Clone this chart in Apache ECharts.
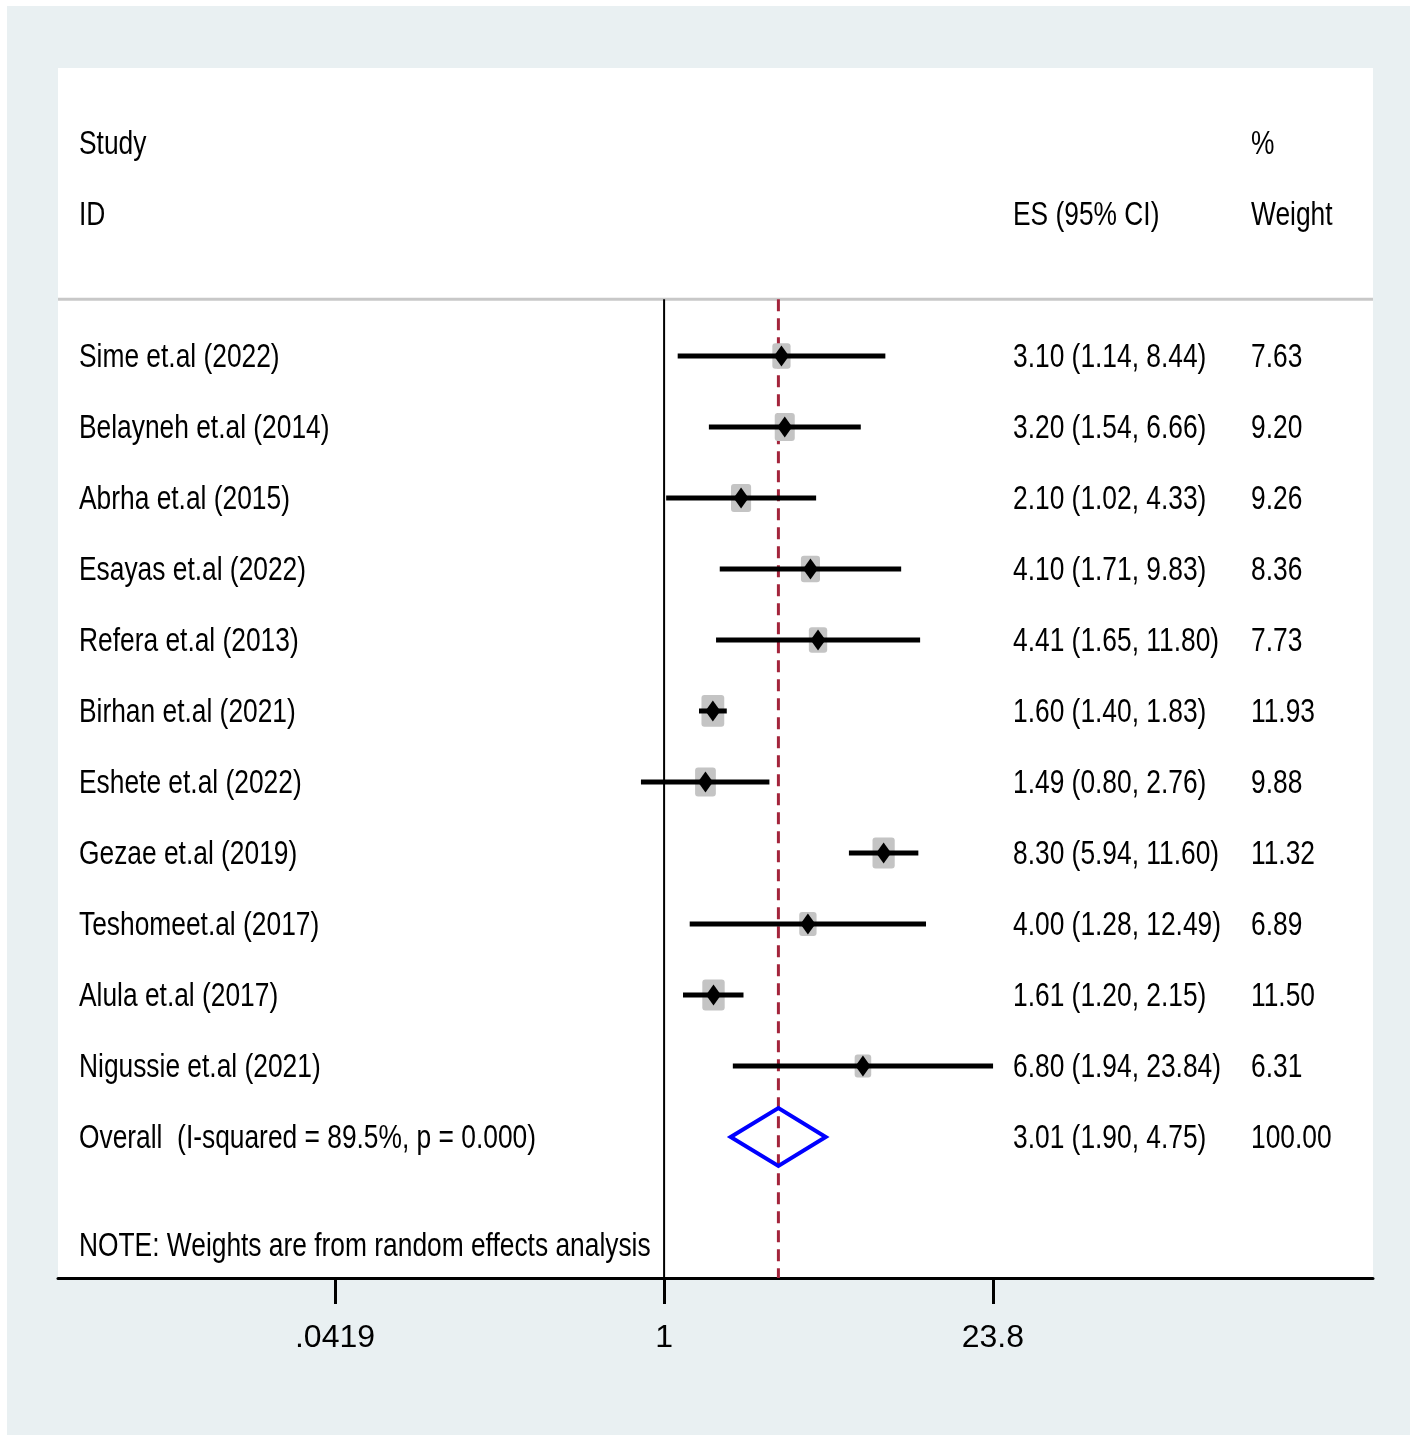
<!DOCTYPE html>
<html>
<head>
<meta charset="utf-8">
<script src="https://cdn.jsdelivr.net/npm/echarts@6/dist/echarts.min.js"></script>
<style>
  html, body { margin: 0; padding: 0; background: #fff; }
  #chart { width: 1417px; height: 1442px; }
</style>
</head>
<body>
<div id="chart"></div>
<script>
// study rows, top to bottom
const studyLabels = [
  'Sime et.al (2022)', 'Belayneh et.al (2014)', 'Abrha et.al (2015)', 'Esayas et.al (2022)',
  'Refera et.al (2013)', 'Birhan et.al (2021)', 'Eshete et.al (2022)', 'Gezae et.al (2019)',
  'Teshomeet.al (2017)', 'Alula et.al (2017)', 'Nigussie et.al (2021)'
];
const effectSizes = [3.10, 3.20, 2.10, 4.10, 4.41, 1.60, 1.49, 8.30, 4.00, 1.61, 6.80];
const ciLower = [1.14, 1.54, 1.02, 1.71, 1.65, 1.40, 0.80, 5.94, 1.28, 1.20, 1.94];
const ciUpper = [8.44, 6.66, 4.33, 9.83, 11.80, 1.83, 2.76, 11.60, 12.49, 2.15, 23.84];
const weights = [7.63, 9.20, 9.26, 8.36, 7.73, 11.93, 9.88, 11.32, 6.89, 11.50, 6.31];

const overallLabel = 'Overall  (I-squared = 89.5%, p = 0.000)';
const overallES = 3.01;
const overallLower = 1.90;
const overallUpper = 4.75;
const overallWeight = 100.00;

const headerLeft = ['Study', 'ID'];
const headerES = ['', 'ES (95% CI)'];
const headerWeight = ['%', 'Weight'];
const noteText = 'NOTE: Weights are from random effects analysis';

const tickValues = [0.0419, 1, 23.8];
const tickLabels = ['.0419', '1', '23.8'];

// no narrow face installed, so Liberation Sans gets squeezed horizontally
const FONT = '"Liberation Sans", Arial, sans-serif';
const NARROW = 0.775;
const TEXT_SIZE = 34;

// row layout (y axis runs in row units, inverted)
const Y_MIN = -4.056, Y_MAX = 12.986;
const SEP_ROW = -0.8;
const NOTE_ROW = 12.52;
const X_MIN = 0.0029, X_MAX = 929;

const fmt = v => v.toFixed(2);
const overallRow = studyLabels.length;

const textRows = [
  { row: -3, left: headerLeft[0], es: headerES[0], wt: headerWeight[0] },
  { row: -2, left: headerLeft[1], es: headerES[1], wt: headerWeight[1] },
  ...studyLabels.map((s, i) => ({
    row: i, left: s,
    es: `${fmt(effectSizes[i])} (${fmt(ciLower[i])}, ${fmt(ciUpper[i])})`,
    wt: fmt(weights[i])
  })),
  {
    row: overallRow, left: overallLabel,
    es: `${fmt(overallES)} (${fmt(overallLower)}, ${fmt(overallUpper)})`,
    wt: fmt(overallWeight)
  },
  { row: NOTE_ROW, left: noteText, es: '', wt: '' }
];

function renderText(params, api) {
  const r = textRows[params.dataIndex];
  const y = api.coord([1, api.value(1)])[1] + 2;
  const x0 = params.coordSys.x;
  const children = [];
  const add = (text, dx) => {
    if (!text) return;
    children.push({
      type: 'text', x: x0 + dx, y, scaleX: NARROW,
      style: { text, fill: '#000', fontSize: TEXT_SIZE, fontFamily: FONT, align: 'left', verticalAlign: 'middle' }
    });
  };
  add(r.left, 21);
  add(r.es, 955);
  add(r.wt, 1193);
  return { type: 'group', children };
}

function renderStudy(params, api) {
  const y = api.coord([1, api.value(1)])[1];
  const xc = api.coord([api.value(0), 0])[0];
  const xl = api.coord([api.value(2), 0])[0];
  const xr = api.coord([api.value(3), 0])[0];
  const s = Math.sqrt(api.value(4));
  const bw = 6.6 * s, bh = 9.2 * s;
  return {
    type: 'group',
    children: [
      { type: 'rect', shape: { x: xc - bw / 2, y: y - bh / 2, width: bw, height: bh, r: 3 }, style: { fill: '#c4c4c4' } },
      { type: 'line', shape: { x1: xl, y1: y, x2: xr, y2: y }, style: { stroke: '#000', lineWidth: 5 } },
      { type: 'polygon', shape: { points: [[xc - 7.5, y], [xc, y - 10.5], [xc + 7.5, y], [xc, y + 10.5]] }, style: { fill: '#000' } }
    ]
  };
}

function renderOverall(params, api) {
  const y = api.coord([1, api.value(1)])[1];
  const xc = api.coord([api.value(0), 0])[0];
  const xl = api.coord([api.value(2), 0])[0];
  const xr = api.coord([api.value(3), 0])[0];
  const h = 29;
  return {
    type: 'polygon',
    shape: { points: [[xl, y], [xc, y - h], [xr, y], [xc, y + h]] },
    style: { fill: 'none', stroke: '#0000ff', lineWidth: 4, lineJoin: 'miter' }
  };
}

const chart = echarts.init(document.getElementById('chart'), null, { renderer: 'canvas' });

chart.setOption({
  animation: false,
  backgroundColor: '#ffffff',
  graphic: [{
    type: 'rect', z: -10, silent: true,
    shape: { x: 7, y: 6, width: 1403, height: 1429 },
    style: { fill: '#e9f0f2' }
  }],
  grid: {
    left: 58, right: 44, top: 68, bottom: 164,
    show: true, backgroundColor: '#ffffff', borderWidth: 0
  },
  xAxis: {
    type: 'log',
    min: X_MIN, max: X_MAX,
    axisLine: { show: true, onZero: false, lineStyle: { color: '#000', width: 3 } },
    axisTick: { show: true, length: 26, lineStyle: { color: '#000', width: 3 }, customValues: tickValues },
    axisLabel: {
      customValues: tickValues,
      margin: 44,
      color: '#000', fontSize: 32, fontFamily: FONT,
      formatter: v => {
        let best = 0;
        tickValues.forEach((t, i) => {
          if (Math.abs(Math.log(t) - Math.log(v)) < Math.abs(Math.log(tickValues[best]) - Math.log(v))) best = i;
        });
        return tickLabels[best];
      }
    },
    splitLine: { show: false }
  },
  yAxis: {
    type: 'value', inverse: true, min: Y_MIN, max: Y_MAX, show: false
  },
  series: [
    {
      type: 'line', silent: true, symbol: 'none', z: 1,
      data: [[X_MIN, SEP_ROW], [X_MAX, SEP_ROW]],
      lineStyle: { color: '#c8c8c8', width: 3 }
    },
    {
      type: 'line', silent: true, symbol: 'none', z: 2,
      data: [[1, SEP_ROW], [1, Y_MAX]],
      lineStyle: { color: '#000', width: 2 }
    },
    {
      type: 'line', silent: true, symbol: 'none', z: 2,
      data: [[overallES, SEP_ROW], [overallES, Y_MAX]],
      lineStyle: { color: '#a3243b', width: 3, type: [12, 7] }
    },
    {
      type: 'custom', z: 3, clip: false,
      renderItem: renderStudy,
      encode: { x: [0, 2, 3], y: 1 },
      data: effectSizes.map((v, i) => [v, i, ciLower[i], ciUpper[i], weights[i]])
    },
    {
      type: 'custom', z: 3, clip: false,
      renderItem: renderOverall,
      encode: { x: [0, 2, 3], y: 1 },
      data: [[overallES, overallRow, overallLower, overallUpper]]
    },
    {
      type: 'custom', z: 4, clip: false,
      renderItem: renderText,
      data: textRows.map(r => [1, r.row])
    }
  ]
});
</script>
</body>
</html>
